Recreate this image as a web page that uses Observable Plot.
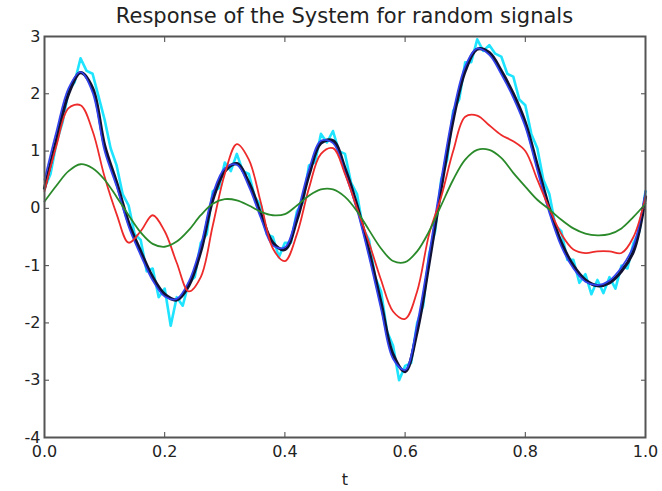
<!DOCTYPE html>
<html>
<head>
<meta charset="utf-8">
<script src="https://cdn.jsdelivr.net/npm/d3@7"></script>
<script src="https://cdn.jsdelivr.net/npm/@observablehq/plot@0.6"></script>
<style>
  html, body { margin: 0; padding: 0; background: white; }
  #wrap { position: relative; width: 662px; height: 491px; overflow: hidden; }
  #title { position: absolute; left: 44px; width: 601px; top: 4px; text-align: center;
           font-family: "DejaVu Sans", sans-serif; font-size: 21px; color: #222; }
  #chart { position: absolute; left: 0; top: 0; }
</style>
</head>
<body>
<div id="wrap">
  <div id="chart"></div>
  <div id="title">Response of the System for random signals</div>
</div>
<script>
const titleText = "Response of the System for random signals";
const xLabel = "t";
const xTicks = [0, 0.2, 0.4, 0.6, 0.8, 1.0];
const yTicks = [-4, -3, -2, -1, 0, 1, 2, 3];

// smooth curves sampled every 0.02 in t
const tSmooth = d3.range(0, 51).map(i => i / 50);
const blackVals = [0.35, 1.2, 2.0, 2.37, 2.1, 1.1, 0.45, -0.25, -0.75, -1.2,
  -1.5, -1.6, -1.35, -0.75, 0.15, 0.65, 0.78, 0.45, -0.1, -0.6,
  -0.72, -0.2, 0.58, 1.14, 1.18, 0.7, 0.05, -0.75, -1.65, -2.55,
  -2.85, -2.15, -0.95, 0.35, 1.55, 2.4, 2.78, 2.72, 2.4, 2.0,
  1.5, 0.75, 0.0, -0.6, -1.0, -1.25, -1.35, -1.3, -1.1, -0.75, 0.2];
const blueVals = [0.5, 1.35, 2.1, 2.38, 2.02, 1.0, 0.38, -0.32, -0.82, -1.26,
  -1.54, -1.58, -1.28, -0.65, 0.25, 0.7, 0.76, 0.38, -0.17, -0.65,
  -0.68, -0.1, 0.68, 1.18, 1.14, 0.62, -0.03, -0.85, -1.76, -2.63,
  -2.82, -2.02, -0.8, 0.5, 1.68, 2.48, 2.79, 2.68, 2.34, 1.93,
  1.42, 0.66, -0.08, -0.67, -1.05, -1.28, -1.34, -1.26, -1.03, -0.65, 0.3];
const redVals = [0.3, 1.1, 1.75, 1.8, 1.35, 0.55, -0.1, -0.6, -0.4, -0.12,
  -0.4, -0.95, -1.45, -1.2, -0.3, 0.6, 1.12, 0.85, 0.1, -0.7,
  -0.92, -0.45, 0.35, 0.95, 1.05, 0.6, 0.0, -0.6, -1.25, -1.8,
  -1.93, -1.45, -0.45, 0.2, 1.0, 1.6, 1.62, 1.45, 1.28, 1.17,
  1.0, 0.5, 0.0, -0.45, -0.72, -0.78, -0.75, -0.75, -0.78, -0.5, 0.2];
const greenVals = [0.12, 0.4, 0.65, 0.77, 0.7, 0.5, 0.2, -0.12, -0.42, -0.62,
  -0.67, -0.58, -0.38, -0.12, 0.08, 0.16, 0.14, 0.05, -0.06, -0.12,
  -0.1, 0.05, 0.22, 0.33, 0.33, 0.2, -0.05, -0.38, -0.7, -0.92,
  -0.94, -0.75, -0.4, 0.05, 0.5, 0.85, 1.02, 1.02, 0.88, 0.62,
  0.38, 0.15, -0.02, -0.2, -0.35, -0.44, -0.47, -0.45, -0.35, -0.15, 0.08];

// noisy measured signal sampled every 0.01 in t
const tNoisy = d3.range(0, 101).map(i => i / 100);
const cyanVals = [0.35, 0.6, 1.15, 1.5, 2.05, 2.2, 2.62, 2.4, 2.35, 1.95,
  1.55, 1.05, 0.75, 0.25, 0.05, -0.45, -0.55, -1.1, -1.05, -1.55,
  -1.4, -2.05, -1.55, -1.7, -1.3, -1.2, -0.6, -0.45, 0.3, 0.35,
  0.8, 0.65, 0.95, 0.65, 0.6, 0.2, 0.05, -0.45, -0.5, -0.85,
  -0.6, -0.6, -0.05, 0.1, 0.75, 0.8, 1.3, 1.15, 1.35, 1.0,
  0.95, 0.45, 0.25, -0.35, -0.55, -1.2, -1.45, -2.15, -2.4, -3.0,
  -2.75, -2.7, -2.0, -1.7, -0.8, -0.4, 0.5, 0.85, 1.7, 1.9,
  2.55, 2.55, 2.95, 2.75, 2.85, 2.7, 2.65, 2.35, 2.3, 1.9,
  1.8, 1.3, 1.05, 0.5, 0.25, -0.3, -0.4, -0.9, -0.9, -1.3,
  -1.15, -1.5, -1.25, -1.48, -1.2, -1.4, -1.0, -1.05, -0.6, -0.4, 0.3];

document.getElementById("title").textContent = titleText;

const smooth = (vals) => tSmooth.map((t, i) => ({t, v: vals[i]}));
const noisy = tNoisy.map((t, i) => ({t, v: cyanVals[i]}));

const font = "DejaVu Sans, sans-serif";
const plot = Plot.plot({
  width: 662,
  height: 491,
  marginTop: 36,
  marginBottom: 54,
  marginLeft: 44,
  marginRight: 17,
  style: {fontFamily: font, fontSize: "16px", color: "#222", background: "white", overflow: "visible"},
  x: {domain: [0, 1]},
  y: {domain: [-4, 3]},
  marks: [
    Plot.line(noisy, {x: "t", y: "v", stroke: "#1ee4ff", strokeWidth: 2.6}),
    Plot.line(smooth(blackVals), {x: "t", y: "v", stroke: "#111133", strokeWidth: 3.2, curve: "catmull-rom"}),
    Plot.line(smooth(blueVals), {x: "t", y: "v", stroke: "#3344ee", strokeWidth: 1.7, curve: "catmull-rom"}),
    Plot.line(smooth(redVals), {x: "t", y: "v", stroke: "#ee2b2b", strokeWidth: 1.8, curve: "catmull-rom"}),
    Plot.line(smooth(greenVals), {x: "t", y: "v", stroke: "#2a8a2a", strokeWidth: 1.8, curve: "catmull-rom"}),
    Plot.axisX({anchor: "bottom", ticks: xTicks, tickSize: 0, tickPadding: 8,
      tickFormat: d3.format(".1f"), label: xLabel, labelAnchor: "center", labelOffset: 47, labelArrow: "none", fontSize: 16}),
    Plot.axisX({anchor: "bottom", ticks: xTicks, tickSize: -5, tickFormat: () => "", label: null, stroke: "#444"}),
    Plot.axisX({anchor: "top", ticks: xTicks, tickSize: -5, tickFormat: () => "", label: null, stroke: "#444"}),
    Plot.axisY({anchor: "left", ticks: yTicks, tickSize: 0, tickPadding: 4,
      tickFormat: d => String(d).replace("−", "-"), label: null, fontSize: 16}),
    Plot.axisY({anchor: "left", ticks: yTicks, tickSize: -5, tickFormat: () => "", label: null, stroke: "#444"}),
    Plot.axisY({anchor: "right", ticks: yTicks, tickSize: -5, tickFormat: () => "", label: null, stroke: "#444"}),
    Plot.frame({stroke: "#555", strokeWidth: 2})
  ]
});
document.getElementById("chart").appendChild(plot);
</script>
</body>
</html>
